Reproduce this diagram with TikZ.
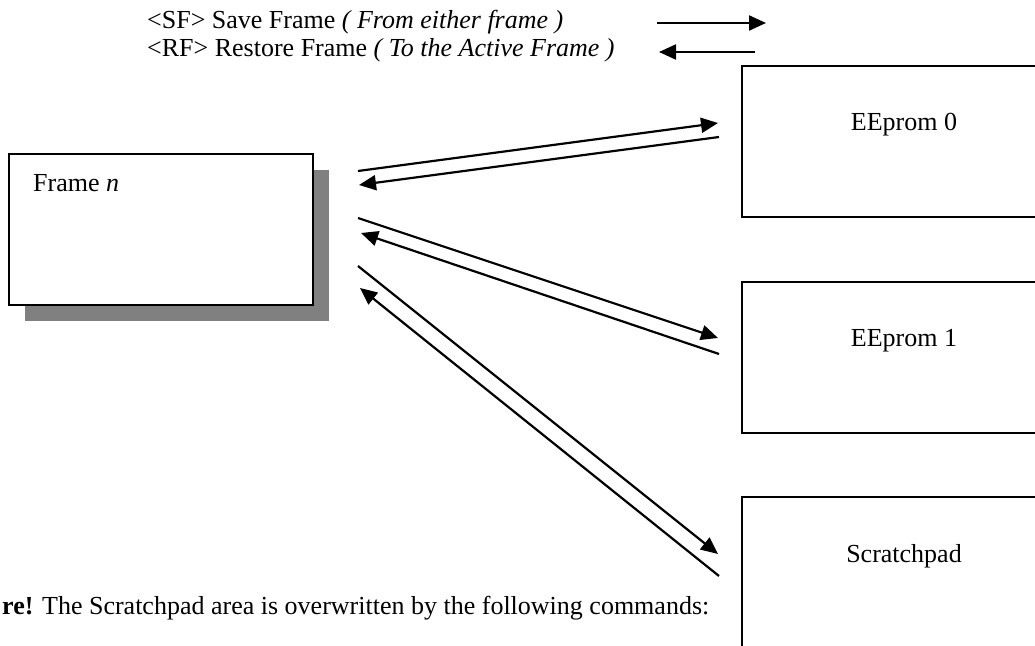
\documentclass[tikz,border=0pt]{standalone}
\usepackage{fontspec}
\setmainfont{Liberation Serif}
\usetikzlibrary{arrows.meta}
\begin{document}
\begin{tikzpicture}[x=1pt,y=-1pt]
\tikzset{
  box/.style={draw, line width=2pt, fill=white, inner sep=0pt},
  lbl/.style={font=\fontsize{26}{31}\selectfont, inner sep=0pt},
  arr/.style={line width=2.2pt, -{Triangle[length=17pt,width=15pt]}},
}
\useasboundingbox (0,0) rectangle (1035,645);
\clip (0,0) rectangle (1035,645);
% legend
\node[lbl, anchor=west] (sf) at (147,22) {<SF> Save Frame \textit{( From either frame )}};
\node[lbl, anchor=west] (rf) at (147,50) {<RF> Restore Frame \textit{( To the Active Frame )}};
\coordinate (sfa) at (657,23); \coordinate (sfb) at (766,23);
\coordinate (rfa) at (755,52); \coordinate (rfb) at (659,52);
\draw[arr] (sfa) -- (sfb);
\draw[arr] (rfa) -- (rfb);
% frame n with shadow
\fill[black!50] (25,170) rectangle (329,321);
\node[box, minimum width=304pt, minimum height=151pt] (frame) at (161,229.5) {};
\node[lbl, anchor=west] (framet) at (33,183) {Frame \textit{n}};
% right boxes
\node[box, minimum width=320pt, minimum height=151pt] (e0) at (902,141.5) {};
\node[box, minimum width=320pt, minimum height=151pt] (e1) at (902,357.5) {};
\node[box, minimum width=320pt, minimum height=151pt] (sp) at (902,572.5) {};
\node[lbl] (e0t) at (904,125) {EEprom 0};
\node[lbl] (e1t) at (904,341) {EEprom 1};
\node[lbl] (spt) at (904,556) {Scratchpad};
% connectors
\coordinate (a1s) at (358,171); \coordinate (a1e) at (718,123);
\coordinate (a2s) at (719,137); \coordinate (a2e) at (359,185);
\coordinate (a3s) at (358,218); \coordinate (a3e) at (718,338);
\coordinate (a4s) at (719,354); \coordinate (a4e) at (361,233);
\coordinate (a5s) at (358,266); \coordinate (a5e) at (718,554);
\coordinate (a6s) at (719,576); \coordinate (a6e) at (360,288);
\draw[arr] (a1s) -- (a1e);
\draw[arr] (a2s) -- (a2e);
\draw[arr] (a3s) -- (a3e);
\draw[arr] (a4s) -- (a4e);
\draw[arr] (a5s) -- (a5e);
\draw[arr] (a6s) -- (a6e);
% bottom note
\node[lbl, anchor=west] (note) at (2,608) {\textbf{re!} The Scratchpad area is overwritten by the following commands:};
\end{tikzpicture}
\end{document}
